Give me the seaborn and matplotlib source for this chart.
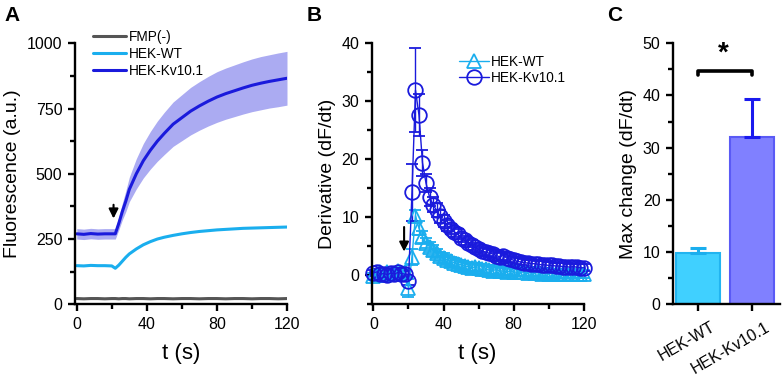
"""Membrane potential dye response: raw traces, derivative and max change."""

import matplotlib

matplotlib.use("Agg")
import matplotlib.pyplot as plt
import numpy as np
import seaborn as sns
from matplotlib.ticker import MultipleLocator
from matplotlib.transforms import ScaledTranslation

# ---- panel A: fluorescence traces (a.u.) ----
T_A = [0, 4, 8, 12, 16, 20, 22, 24, 26, 28, 30, 34, 38, 42, 46, 50, 55, 60,
       65, 70, 75, 80, 85, 90, 95, 100, 105, 110, 115, 120]
KV_MEAN = [270, 268, 271, 269, 270, 270, 270, 310, 355, 395, 440, 500, 550,
           590, 625, 655, 690, 715, 740, 760, 778, 794, 807, 818, 829, 839,
           847, 854, 860, 866]
KV_SEM = [20, 20, 20, 20, 20, 20, 20, 25, 32, 40, 47, 58, 66, 72, 77, 81, 85,
          88, 91, 93, 95, 97, 98, 99, 100, 101, 102, 102, 103, 103]
WT_MEAN = [148, 147, 149, 148, 148, 147, 138, 150, 165, 180, 193, 212, 228,
           240, 250, 257, 264, 270, 275, 279, 282, 285, 287, 289, 291, 292,
           293, 294, 295, 296]
FMP_MEAN = [22, 21, 22, 22, 21, 22, 22, 21, 22, 22, 21, 22, 22, 21, 22, 22,
            21, 22, 22, 21, 22, 22, 21, 22, 22, 21, 22, 22, 21, 22]

# ---- panel B: derivative (dF/dt) ----
T_B = [0, 2, 4, 6, 8, 10, 12, 14, 16, 18, 20, 22, 24, 26, 28, 30, 32, 34, 36,
       38, 40, 42, 44, 46, 48, 50, 52, 54, 56, 58, 60, 62, 64, 66, 68, 70, 72,
       74, 76, 78, 80, 82, 84, 86, 88, 90, 92, 94, 96, 98, 100, 102, 104, 106,
       108, 110, 112, 114, 116, 118, 120]
WT_DER = [-0.2, 0.3, 0.5, 0.1, 0.6, 0.2, 0.4, 0.7, 0.3, 0.5, -2.2, 3.2, 10.3,
          8.1, 6.6, 5.6, 4.9, 4.3, 3.8, 3.3, 3.0, 2.7, 2.4, 2.2, 2.0, 1.8, 1.6,
          1.5, 1.3, 1.4, 1.2, 1.0, 1.1, 0.9, 0.8, 1.0, 0.8, 0.7, 0.6, 0.7, 0.6,
          0.5, 0.6, 0.5, 0.4, 0.5, 0.4, 0.5, 0.3, 0.4, 0.3, 0.4, 0.3, 0.3, 0.2,
          0.3, 0.2, 0.3, 0.2, 0.3, 0.2]
WT_ERR = [0.6, 0.6, 0.6, 0.6, 0.6, 0.6, 0.6, 0.6, 0.6, 0.6, 1.5, 1.4, 1.0,
          1.2, 1.0, 0.9, 0.9, 0.9, 0.8, 0.8, 0.8, 0.8, 0.8, 0.7, 0.7, 0.7, 0.7,
          0.7, 0.7, 0.7, 0.7, 0.7, 0.7, 0.7, 0.7, 0.7, 0.7, 0.7, 0.7, 0.7, 0.7,
          0.7, 0.7, 0.7, 0.7, 0.7, 0.7, 0.7, 0.7, 0.7, 0.7, 0.7, 0.7, 0.7, 0.7,
          0.7, 0.7, 0.7, 0.7, 0.7, 0.7]
KV_DER = [0.4, 0.6, 0.2, 0.3, 0.1, 0.4, 0.2, 0.5, 0.3, 0.2, -0.9, 14.3, 31.9,
          27.6, 19.4, 15.9, 13.5, 12.2, 11.2, 10.2, 9.4, 8.6, 8.0, 7.5, 7.1,
          6.5, 6.0, 5.6, 5.2, 4.8, 4.5, 4.2, 4.0, 3.8, 3.7, 3.4, 3.2, 3.4, 3.0,
          2.8, 2.6, 2.4, 2.3, 2.2, 2.1, 2.0, 2.0, 1.9, 1.8, 1.8, 1.7, 1.7, 1.6,
          1.6, 1.5, 1.5, 1.4, 1.5, 1.4, 1.3, 1.3]
KV_ERR = [0.5, 0.5, 0.5, 0.5, 0.5, 0.5, 0.5, 0.5, 0.5, 0.5, 0.8, 4.9, 7.2,
          3.6, 2.2, 1.6, 1.5, 1.3, 1.2, 1.1, 1.0, 1.0, 0.9, 0.9, 0.9, 0.8, 0.8,
          0.8, 0.8, 0.8, 0.7, 0.7, 0.7, 0.7, 0.7, 0.7, 0.7, 0.7, 0.7, 0.6, 0.6,
          0.6, 0.6, 0.6, 0.6, 0.6, 0.6, 0.6, 0.6, 0.6, 0.6, 0.6, 0.6, 0.6, 0.6,
          0.6, 0.6, 0.6, 0.6, 0.6, 0.6]

# ---- panel C: max change ----
GROUPS = ["HEK-WT", "HEK-Kv10.1"]
MAX_CHANGE = [9.9, 32.1]
MAX_ERR = [0.8, 7.2]

C_FMP = "#555555"
C_WT = "#1AAEEE"
C_KV = "#1A1ADC"
C_BAND = "#ABABF2"


def style_axis(ax):
    for side in ("top", "right"):
        ax.spines[side].set_visible(False)
    for side in ("left", "bottom"):
        ax.spines[side].set_linewidth(1.7)
        ax.spines[side].set_color("black")
    ax.tick_params(which="major", direction="out", length=5, width=1.7,
                   labelsize=11.5, pad=4, color="black", labelcolor="black")
    ax.tick_params(which="minor", direction="out", length=3.5, width=1.7,
                   color="black")


sns.set_style("ticks")
plt.rcParams["font.family"] = ["Liberation Sans", "DejaVu Sans"]
plt.rcParams["text.color"] = "black"
plt.rcParams["axes.labelcolor"] = "black"

fig = plt.figure(figsize=(7.82, 3.83), dpi=100)
ax_a = fig.add_axes([0.0959, 0.2055, 0.2711, 0.6815])
ax_b = fig.add_axes([0.4753, 0.2055, 0.2711, 0.6815])
ax_c = fig.add_axes([0.8606, 0.2055, 0.1368, 0.6815])

# ---- A ----
ax_a.fill_between(T_A, np.array(KV_MEAN) - np.array(KV_SEM),
                  np.array(KV_MEAN) + np.array(KV_SEM), color=C_BAND, lw=0)
sns.lineplot(x=T_A, y=FMP_MEAN, ax=ax_a, color=C_FMP, lw=2.2, label="FMP(-)")
sns.lineplot(x=T_A, y=WT_MEAN, ax=ax_a, color=C_WT, lw=2.2, label="HEK-WT")
sns.lineplot(x=T_A, y=KV_MEAN, ax=ax_a, color=C_KV, lw=2.2, label="HEK-Kv10.1")
ax_a.set_xlim(-1, 120)
ax_a.set_ylim(0, 1000)
ax_a.xaxis.set_major_locator(MultipleLocator(40))
ax_a.xaxis.set_minor_locator(MultipleLocator(20))
ax_a.yaxis.set_major_locator(MultipleLocator(250))
ax_a.yaxis.set_minor_locator(MultipleLocator(125))
ax_a.set_xlabel("t (s)", fontsize=16, labelpad=8)
ax_a.set_ylabel("Fluorescence (a.u.)", fontsize=14, labelpad=4)
ax_a.legend(loc="upper left", bbox_to_anchor=(0.085, 1.05), frameon=False,
            fontsize=9.8, handlelength=2.4, handletextpad=0.2,
            labelspacing=0.2, borderpad=0, borderaxespad=0)
ax_a.annotate("", xy=(21, 318), xytext=(21, 392),
              arrowprops=dict(arrowstyle="-|>", color="black", lw=1.5,
                              mutation_scale=14))
style_axis(ax_a)

# ---- B ----
ax_b.errorbar(T_B, WT_DER, yerr=WT_ERR, color=C_WT, marker="^", ms=10.5,
              mfc="none", mec=C_WT, mew=1.3, lw=1.0, elinewidth=1.0,
              capsize=4, capthick=1.0, label="HEK-WT", clip_on=False)
ax_b.errorbar(T_B, KV_DER, yerr=KV_ERR, color=C_KV, marker="o", ms=10.5,
              mfc="none", mec=C_KV, mew=1.3, lw=1.0, elinewidth=1.0,
              capsize=4, capthick=1.0, label="HEK-Kv10.1", clip_on=False)
ax_b.set_xlim(-1, 120)
ax_b.set_ylim(-5, 40)
ax_b.xaxis.set_major_locator(MultipleLocator(40))
ax_b.xaxis.set_minor_locator(MultipleLocator(20))
ax_b.yaxis.set_minor_locator(MultipleLocator(5))
ax_b.set_yticks([0, 10, 20, 30, 40])
ax_b.set_xlabel("t (s)", fontsize=16, labelpad=8)
ax_b.set_ylabel("Derivative (dF/dt)", fontsize=14, labelpad=4)
handles, labels = ax_b.get_legend_handles_labels()
ax_b.legend([h[0] for h in handles], labels, loc="upper left",
            bbox_to_anchor=(0.41, 0.955), frameon=False, fontsize=9.8,
            handlelength=2.2, handletextpad=0.2, labelspacing=0.15,
            borderpad=0, borderaxespad=0)
ax_b.annotate("", xy=(17.5, 3.6), xytext=(17.5, 8.8),
              arrowprops=dict(arrowstyle="-|>", color="black", lw=1.5,
                              mutation_scale=14))
style_axis(ax_b)

# ---- C ----
sns.barplot(x=GROUPS, y=MAX_CHANGE, hue=GROUPS, palette=["#40D0FF", "#8080FF"],
            saturation=1, legend=False, width=0.83, ax=ax_c)
for patch, edge in zip(ax_c.patches, ["#22B4F0", "#5A5AF5"]):
    patch.set_edgecolor(edge)
    patch.set_linewidth(1.5)
for i, err_color in enumerate(["#1AAEEE", "#1A1AEE"]):
    ax_c.errorbar([i], [MAX_CHANGE[i]], yerr=[[0], [MAX_ERR[i]]], fmt="none",
                  ecolor=err_color, elinewidth=2.2, capsize=6, capthick=2.2)
ax_c.plot([0, 0, 1, 1], [43.9, 44.7, 44.7, 43.9], color="black", lw=2.6,
          solid_capstyle="round", solid_joinstyle="round", clip_on=False)
ax_c.text(0.47, 48.0, "*", ha="center", va="center", fontsize=20,
          fontweight="bold")
ax_c.set_xlim(-0.463, 1.52)
ax_c.set_ylim(0, 50)
ax_c.yaxis.set_major_locator(MultipleLocator(10))
ax_c.yaxis.set_minor_locator(MultipleLocator(5))
ax_c.set_ylabel("Max change (dF/dt)", fontsize=14, labelpad=4)
style_axis(ax_c)
ax_c.set_xticks([0, 1])
ax_c.set_xticklabels(GROUPS, rotation=30, ha="right", rotation_mode="anchor",
                     fontsize=11.5)
shift = ScaledTranslation(9 / 72, -2 / 72, fig.dpi_scale_trans)
for tick_label in ax_c.get_xticklabels():
    tick_label.set_transform(tick_label.get_transform() + shift)

for label, x in (("A", 0.006), ("B", 0.392), ("C", 0.776)):
    fig.text(x, 0.985, label, fontsize=15, fontweight="bold", va="top")

fig.savefig("out.png", dpi=100)
